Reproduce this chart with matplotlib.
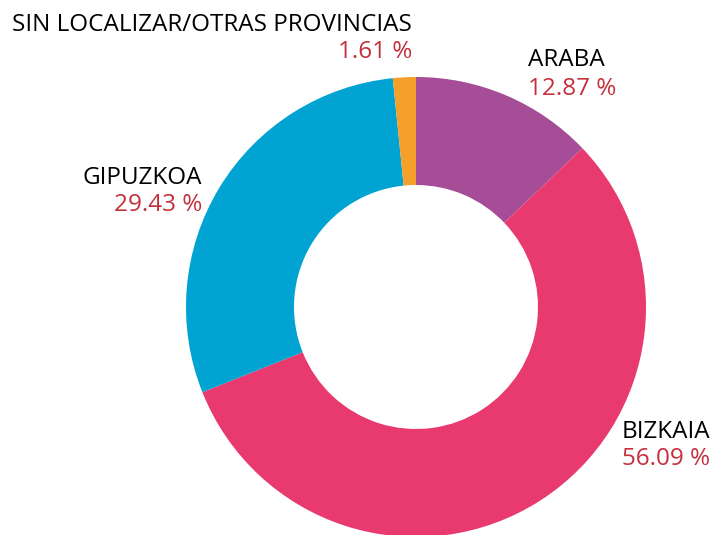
import matplotlib
matplotlib.use("Agg")
import matplotlib.pyplot as plt

labels = ["ARABA", "BIZKAIA", "GIPUZKOA", "SIN LOCALIZAR/OTRAS PROVINCIAS"]
values = [12.87, 56.09, 29.43, 1.61]
colors = ["#A64D97", "#E83A6E", "#00A3D1", "#F5A02B"]

# label anchors in pixel coords (x, name baseline, value baseline, alignment)
label_pos = [
    (528, 66, 95, "left"),
    (622, 438, 465, "left"),
    (202, 184, 211, "right"),
    (412, 31, 58, "right"),
]

W, H = 717, 535
fig = plt.figure(figsize=(W / 100, H / 100), dpi=100)
ax = fig.add_axes([0, 0, 1, 1])
ax.set_aspect("equal")
ax.axis("off")

ax.pie(values, colors=colors, startangle=90, counterclock=False,
       center=(416, H - 307), radius=230,
       wedgeprops=dict(width=230 - 122, edgecolor="none"))
ax.set_xlim(0, W)
ax.set_ylim(0, H)

for lab, val, (x, y1, y2, ha) in zip(labels, values, label_pos):
    ax.text(x, H - y1, lab, ha=ha, va="baseline", fontsize=17.5,
            family="Open Sans", fontweight=500, color="#000000")
    ax.text(x, H - y2, f"{val:.2f} %", ha=ha, va="baseline", fontsize=17.5,
            family="Open Sans", fontweight=500, color="#C4303C")

fig.savefig("out.png", dpi=100)
